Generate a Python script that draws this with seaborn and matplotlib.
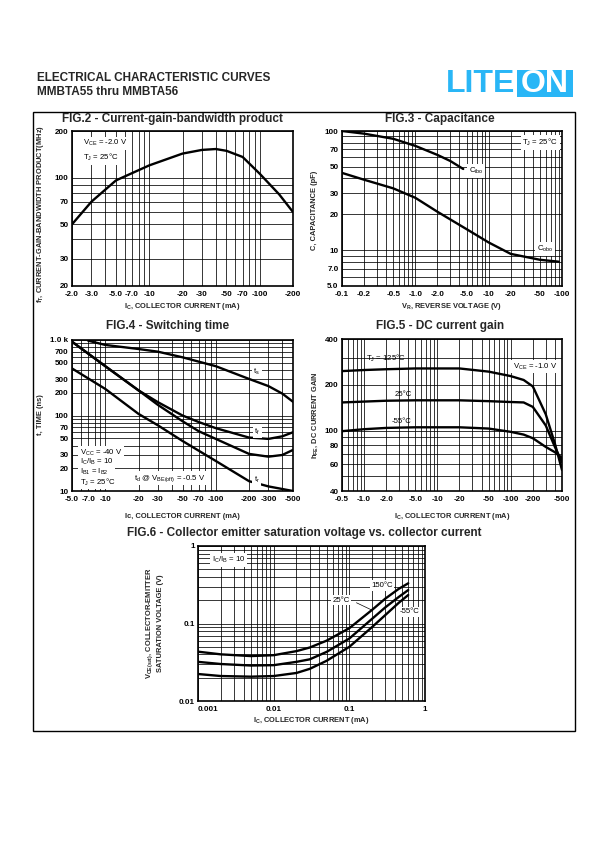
import numpy as np
import pandas as pd
import seaborn as sns
import matplotlib.pyplot as plt
from matplotlib.ticker import LogLocator, NullFormatter
from matplotlib.patches import Rectangle

# ---- curve values ----
# FIG.2  fT vs Ic  (VCE = -2.0 V)
ic_fig2 = [2.0, 3.0, 5.0, 7.0, 10, 20, 30, 40, 50, 70, 100, 150, 200]
ft_fig2 = [50, 70, 96, 107, 120, 143, 151, 153, 149, 136, 106, 78, 60]

# FIG.3  capacitance vs VR
vr_cibo = [0.1, 0.2, 0.5, 1.0, 2.0, 3.0, 4.5]
c_cibo = [100, 95, 86, 75, 63, 56, 48]
vr_cobo = [0.1, 0.2, 0.5, 1.0, 2.0, 5.0, 10, 20, 50, 90]
c_cobo = [44.5, 39, 33, 27.5, 21, 15, 11.6, 9.3, 8.3, 8.0]

# FIG.4  switching time
ic_ts = [7.0, 10, 20, 30, 50, 100, 200, 300, 400, 500]
t_ts = [980, 860, 760, 700, 590, 450, 305, 245, 195, 152]
ic_tf = [5.0, 10, 20, 30, 50, 70, 100, 200, 300, 400, 500]
t_tf = [950, 450, 215, 150, 100, 82, 68, 51, 49, 53, 60]
ic_td = [5.0, 10, 20, 30, 50, 70, 100, 200, 300, 400, 500]
t_td = [950, 450, 215, 138, 84, 62, 49, 31, 28.5, 30, 35]
ic_tr = [5.0, 10, 20, 30, 50, 100, 200, 300, 500]
t_tr = [420, 225, 105, 74, 46, 25, 13.5, 11.5, 10]

# FIG.5  hFE vs Ic
ic_fig5 = [0.5, 1.0, 2.0, 5.0, 10, 20, 50, 100, 150, 200, 300, 400, 500]
hfe_125 = [246, 250, 253, 256, 256, 256, 244, 228, 215, 195, 128, 82, 55]
hfe_25 = [153, 155, 157, 158, 158, 158, 156, 154, 153, 143, 108, 78, 62]
hfe_m55 = [99, 102, 104, 105, 105, 105, 103, 98, 94, 89, 78, 72, 66]

# FIG.6  VCE(sat) vs Ic
ic_fig6 = [0.001, 0.002, 0.005, 0.01, 0.02, 0.03, 0.05, 0.1, 0.2, 0.3, 0.45, 0.6]
vce_150 = [0.0433, 0.040, 0.038, 0.039, 0.044, 0.049, 0.060, 0.087, 0.15, 0.21, 0.28, 0.33]
vce_25 = [0.032, 0.030, 0.0287, 0.029, 0.032, 0.0345, 0.043, 0.064, 0.115, 0.162, 0.22, 0.27]
vce_m55 = [0.0223, 0.021, 0.0206, 0.021, 0.023, 0.026, 0.033, 0.050, 0.090, 0.129, 0.185, 0.233]

# tick labels
x2_ticks = [2, 3, 5, 7, 10, 20, 30, 50, 70, 100, 200]
x2_labels = ["-2.0", "-3.0", "-5.0", "-7.0", "-10", "-20", "-30", "-50", "-70", "-100", "-200"]
y2_ticks = [20, 30, 50, 70, 100, 200]
x3_ticks = [0.1, 0.2, 0.5, 1, 2, 5, 10, 20, 50, 100]
x3_labels = ["-0.1", "-0.2", "-0.5", "-1.0", "-2.0", "-5.0", "-10", "-20", "-50", "-100"]
y3_ticks = [5, 7, 10, 20, 30, 50, 70, 100]
y3_labels = ["5.0", "7.0", "10", "20", "30", "50", "70", "100"]
x4_ticks = [5, 7, 10, 20, 30, 50, 70, 100, 200, 300, 500]
x4_labels = ["-5.0", "-7.0", "-10", "-20", "-30", "-50", "-70", "-100", "-200", "-300", "-500"]
y4_ticks = [10, 20, 30, 50, 70, 100, 200, 300, 500, 700, 1000]
y4_labels = ["10", "20", "30", "50", "70", "100", "200", "300", "500", "700", "1.0 k"]
x5_ticks = [0.5, 1, 2, 5, 10, 20, 50, 100, 200, 500]
x5_labels = ["-0.5", "-1.0", "-2.0", "-5.0", "-10", "-20", "-50", "-100", "-200", "-500"]
y5_ticks = [40, 60, 80, 100, 200, 400]
x6_ticks = [0.001, 0.01, 0.1, 1]
x6_labels = ["0.001", "0.01", "0.1", "1"]
y6_ticks = [0.01, 0.1, 1]
y6_labels = ["0.01", "0.1", "1"]

sns.set_theme(style="white")
plt.rcParams['font.family'] = ['Liberation Sans Narrow', 'Liberation Sans', 'DejaVu Sans']
plt.rcParams['mathtext.default'] = 'regular'

W, H = 595, 842
fig = plt.figure(figsize=(W / 100, H / 100), dpi=100)


def fx(px):
    return px / W


def fy(py):
    return 1 - py / H


def make_ax(left, top, right, bottom):
    return fig.add_axes([fx(left), fy(bottom), (right - left) / W, (bottom - top) / H])


def setup(ax, xlim, ylim, xt, xl, yt, yl):
    ax.set_xscale('log')
    ax.set_yscale('log')
    ax.set_xlim(xlim)
    ax.set_ylim(ylim)
    ax.set_xticks(xt, xl)
    ax.set_yticks(yt, yl)
    for a in (ax.xaxis, ax.yaxis):
        a.set_minor_locator(LogLocator(base=10, subs=np.arange(1, 10), numticks=60))
        a.set_minor_formatter(NullFormatter())
    ax.grid(True, which='both', color='black', linewidth=0.55)
    ax.tick_params(which='both', length=0, labelsize=5.8, colors='black')
    ax.tick_params(axis='x', pad=3.5)
    ax.tick_params(axis='y', pad=2.5)
    for lab in ax.get_xticklabels() + ax.get_yticklabels():
        lab.set_fontweight('bold')
    for s in ax.spines.values():
        s.set_color('black')
        s.set_linewidth(1.2)
    ax.set_xlabel('')
    ax.set_ylabel('')


def curve(ax, x, y):
    sns.lineplot(x=x, y=y, ax=ax, color='black', linewidth=1.7, estimator=None, sort=False)


def note(ax, x, y, s, ha='center', coords='data', box=True):
    kw = dict(fontsize=5.6, ha=ha, va='center', color='black', zorder=5)
    if box:
        kw['bbox'] = dict(facecolor='white', edgecolor='none', pad=1.2)
    if coords == 'axes':
        kw['transform'] = ax.transAxes
    ax.text(x, y, s, **kw)


# ---- header ----
fig.text(fx(37), fy(78), "ELECTRICAL CHARACTERISTIC CURVES", fontsize=8.5, fontweight='bold',
         family=['Liberation Sans', 'DejaVu Sans'], va='center', ha='left')
fig.text(fx(37), fy(92), "MMBTA55 thru MMBTA56", fontsize=8.5, fontweight='bold',
         family=['Liberation Sans', 'DejaVu Sans'], va='center', ha='left')
logo_blue = '#29b6f6'
fig.text(fx(515), fy(84), "LITE", fontsize=23, fontweight='bold', color=logo_blue, ha='right', va='center')
fig.patches.append(Rectangle((fx(517), fy(97)), 56 / W, 27 / H, transform=fig.transFigure,
                             facecolor=logo_blue, edgecolor='none'))
fig.text(fx(545), fy(84), "ON", fontsize=23, fontweight='bold', color='white', ha='center', va='center')

# outer frame
fig.patches.append(Rectangle((fx(33), fy(731)), (575 - 33) / W, (731 - 112) / H,
                             transform=fig.transFigure, facecolor='none', edgecolor='black', linewidth=1.0))

title_kw = dict(fontsize=8.5, fontweight='bold', ha='center', va='center')
lab_kw = dict(fontsize=5.4, fontweight='bold', ha='center', va='center')

# ---- FIG.2 ----
ax2 = make_ax(72, 131, 293, 286)
setup(ax2, (2, 200), (20, 200), x2_ticks, x2_labels, y2_ticks, [str(v) for v in y2_ticks])
curve(ax2, ic_fig2, ft_fig2)
note(ax2, 0.05, 0.92, "V$_{CE}$ = -2.0 V", ha='left', coords='axes')
note(ax2, 0.05, 0.83, "T$_J$ = 25°C", ha='left', coords='axes')
fig.text(fx(172), fy(119), "FIG.2 - Current-gain-bandwidth product", **title_kw)
fig.text(fx(182), fy(307), "I$_C$, COLLECTOR CURRENT (mA)", **lab_kw)
fig.text(fx(41), fy(214), "f$_T$, CURRENT-GAIN-BANDWIDTH PRODUCT(MHz)", rotation=90, **lab_kw)

# ---- FIG.3 ----
ax3 = make_ax(342, 131, 562, 286)
setup(ax3, (0.1, 100), (5, 100), x3_ticks, x3_labels, y3_ticks, y3_labels)
curve(ax3, vr_cibo, c_cibo)
curve(ax3, vr_cobo, c_cobo)
note(ax3, 5.4, 46, "C$_{ibo}$", ha='left')
note(ax3, 45, 10.2, "C$_{obo}$", ha='left')
note(ax3, 0.82, 0.925, "T$_J$ = 25°C", ha='left', coords='axes')
fig.text(fx(440), fy(119), "FIG.3 - Capacitance", **title_kw)
fig.text(fx(452), fy(307), "V$_R$, REVERSE VOLTAGE (V)", **lab_kw)
fig.text(fx(315), fy(210), "C, CAPACITANCE (pF)", rotation=90, **lab_kw)

# ---- FIG.4 ----
ax4 = make_ax(72, 340, 293, 491)
setup(ax4, (5, 500), (10, 1000), x4_ticks, x4_labels, y4_ticks, y4_labels)
curve(ax4, ic_ts, t_ts)
curve(ax4, ic_tf, t_tf)
curve(ax4, ic_td, t_td)
curve(ax4, ic_tr, t_tr)
note(ax4, 235, 380, "t$_s$")
note(ax4, 238, 61, "t$_f$")
note(ax4, 235, 14, "t$_r$")
note(ax4, 0.035, 0.255, "V$_{CC}$ = -40 V", ha='left', coords='axes')
note(ax4, 0.035, 0.19, "I$_C$/I$_B$ = 10", ha='left', coords='axes')
note(ax4, 0.035, 0.125, "I$_{B1}$ = I$_{B2}$", ha='left', coords='axes')
note(ax4, 0.035, 0.06, "T$_J$ = 25°C", ha='left', coords='axes')
note(ax4, 0.28, 0.085, "t$_d$ @ V$_{BE(off)}$ = -0.5 V", ha='left', coords='axes')
fig.text(fx(168), fy(326), "FIG.4 - Switching time", **title_kw)
fig.text(fx(182), fy(516), "Ic, COLLECTOR CURRENT (mA)", **lab_kw)
fig.text(fx(41), fy(415), "t, TIME (ns)", rotation=90, **lab_kw)

# ---- FIG.5 ----
ax5 = make_ax(342, 339, 562, 491)
setup(ax5, (0.5, 500), (40, 400), x5_ticks, x5_labels, y5_ticks, [str(v) for v in y5_ticks])
curve(ax5, ic_fig5, hfe_125)
curve(ax5, ic_fig5, hfe_25)
curve(ax5, ic_fig5, hfe_m55)
note(ax5, 2.0, 300, "T$_J$ = 125°C", box=False)
note(ax5, 3.4, 173, "25°C", box=False)
note(ax5, 3.2, 114, "-55°C", box=False)
note(ax5, 216, 263, "V$_{CE}$ = -1.0 V")
fig.text(fx(440), fy(326), "FIG.5 - DC current gain", **title_kw)
fig.text(fx(452), fy(516), "I$_C$, COLLECTOR CURRENT (mA)", **lab_kw)
fig.text(fx(315), fy(415), "h$_{FE}$, DC CURRENT GAIN", rotation=90, **lab_kw)

# ---- FIG.6 ----
ax6 = make_ax(198, 546, 425, 701)
setup(ax6, (0.001, 1), (0.01, 1), x6_ticks, x6_labels, y6_ticks, y6_labels)
ax6.get_xticklabels()[0].set_horizontalalignment('left')
curve(ax6, ic_fig6, vce_150)
curve(ax6, ic_fig6, vce_25)
curve(ax6, ic_fig6, vce_m55)
note(ax6, 0.06, 0.91, "I$_C$/I$_B$ = 10", ha='left', coords='axes')
note(ax6, 0.27, 0.31, "150°C")
note(ax6, 0.078, 0.2, "25°C")
note(ax6, 0.62, 0.142, "-55°C")
ax6.annotate("", xy=(0.22, 0.142), xytext=(0.115, 0.192),
             arrowprops=dict(arrowstyle='-', color='black', lw=0.5))
fig.text(fx(304), fy(533), "FIG.6 - Collector emitter saturation voltage vs. collector current", **title_kw)
fig.text(fx(311), fy(720), "I$_C$, COLLECTOR CURRENT (mA)", **lab_kw)
fig.text(fx(150), fy(623), "V$_{CE(sat)}$, COLLECTOR-EMITTER", rotation=90, **lab_kw)
fig.text(fx(161), fy(623), "SATURATION VOLTAGE (V)", rotation=90, **lab_kw)

fig.savefig("out.png", dpi=100, facecolor='white')
